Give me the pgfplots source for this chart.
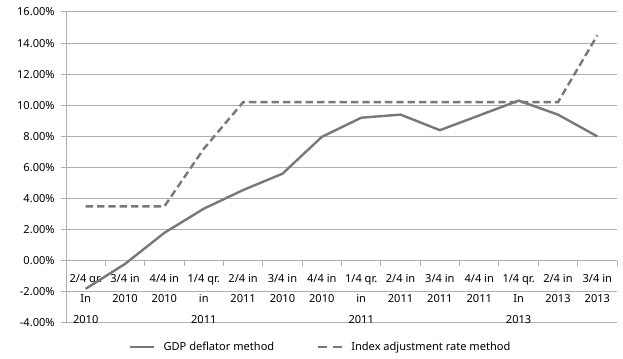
\documentclass[border=0pt]{standalone}
\usepackage{fontspec}
\setmainfont{Noto Sans}
\usepackage{pgfplots}
\pgfplotsset{compat=1.18}

\definecolor{seriesgray}{RGB}{120,120,120}
\definecolor{gridgray}{RGB}{175,175,175}

\begin{document}
\begin{tikzpicture}
\begin{axis}[
  scale only axis, width=413.25pt, height=233.25pt,
  xmin=-0.5, xmax=13.5, ymin=-4, ymax=16,
  axis x line=middle, axis y line=left,
  axis line style={-, draw=gridgray, line width=0.75pt},
  hide obscured x ticks=false, hide obscured y ticks=false,
  /pgf/number format/assume math mode=true,
  font=\fontsize{8.3}{10}\selectfont,
  ytick={-4,-2,...,16},
  ymajorgrids, grid style={draw=gridgray, line width=0.75pt},
  yticklabel={\pgfmathprintnumber[fixed,fixed zerofill,precision=2]{\tick}\%},
  ytick style={draw=gridgray, line width=0.75pt}, ytick align=outside, major tick length=4pt,
  yticklabel style={font=\fontsize{8.3}{10}\selectfont, xshift=-1pt},
  xtick={0,...,13},
  xtick style={draw=none},
  extra x ticks={-0.5,0.5,...,13.5},
  extra x tick labels={},
  extra x tick style={xtick style={draw=gridgray, line width=0.75pt}, xtick align=outside, major tick length=4pt},
  xticklabels={
    {2/4 qr.\\In\\2010}, {3/4 in\\2010}, {4/4 in\\2010}, {1/4 qr.\\in\\2011},
    {2/4 in\\2011}, {3/4 in\\2010}, {4/4 in\\2010}, {1/4 qr.\\in\\2011},
    {2/4 in\\2011}, {3/4 in\\2011}, {4/4 in\\2011}, {1/4 qr.\\In\\2013},
    {2/4 in\\2013}, {3/4 in\\2013}},
  xticklabel style={align=center, anchor=north, font=\fontsize{8.3}{15.5}\selectfont, yshift=-4.5pt},
  legend image code/.code={\draw[#1] (0pt,0pt) -- (18pt,0pt);},
  legend style={at={(0.463,-0.077)}, anchor=center, draw=none, fill=none,
    legend columns=2, font=\fontsize{8.3}{10}\selectfont,
    /tikz/every odd column/.append style={column sep=4pt},
    /tikz/every even column/.append style={column sep=30pt}},
  legend cell align=left,
]
% GDP deflator method
\addplot[seriesgray, line width=1.8pt] coordinates {
  (0,-1.8) (1,-0.2) (2,1.8) (3,3.35) (4,4.55) (5,5.6) (6,7.97)
  (7,9.2) (8,9.4) (9,8.4) (10,9.35) (11,10.3) (12,9.4) (13,8.0)};
\addlegendentry{GDP deflator method}
% Index adjustment rate method
\addplot[seriesgray, line width=1.8pt, dash pattern=on 5.5pt off 3pt,
  legend image post style={dash pattern=on 7pt off 4pt}] coordinates {
  (0,3.5) (1,3.5) (2,3.5) (3,7.2) (4,10.2) (5,10.2) (6,10.2)
  (7,10.2) (8,10.2) (9,10.2) (10,10.2) (11,10.2) (12,10.2) (13,14.5)};
\addlegendentry{Index adjustment rate method}
\end{axis}
\path (current axis.south west) ++(-49.5pt,-27pt) coordinate (bbA);
\path (current axis.north east) ++(4.5pt,9pt) coordinate (bbB);
\path (bbA) rectangle (bbB);
\end{tikzpicture}
\end{document}
